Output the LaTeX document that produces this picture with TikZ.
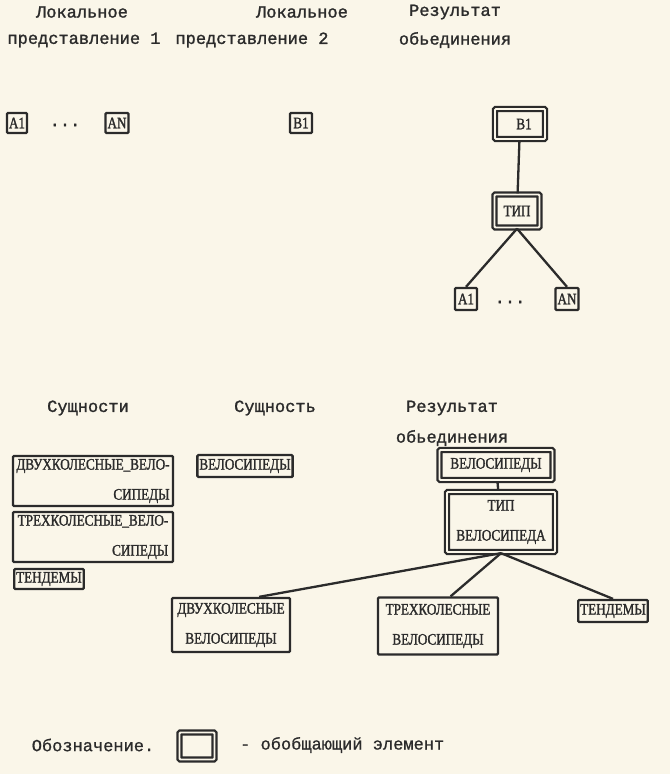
\documentclass[tikz,border=0pt]{standalone}
\usepackage{fontspec}
\setmainfont{Liberation Mono}
\newfontfamily\headfont[FakeBold=1.4]{Liberation Mono}
\newfontfamily\boxfont[FakeStretch=0.82, FakeBold=1.5]{Liberation Serif}
\newfontfamily\legfont[FakeBold=0.8]{Liberation Mono}
\definecolor{paper}{HTML}{FAF6E9}
\definecolor{ink}{HTML}{2B2B2B}

\begin{document}
\begin{tikzpicture}[x=1pt,y=-1pt]
% Diagram style
\tikzset{
    head/.style={text=ink, font=\headfont\fontsize{17}{20}\selectfont, inner sep=0pt},
    ent/.style={draw=ink, line width=2.3pt, rounded corners=1pt, text=ink,
        font=\boxfont\fontsize{16}{30}\selectfont, inner xsep=2pt, inner ysep=3pt},
    gen/.style={ent, double=paper, double distance=1.8pt},
    link/.style={draw=ink, line width=2.3pt}
}
\fill[paper] (0,0) rectangle (670,774);
\useasboundingbox (0,0) rectangle (670,774);

% Headers
\node[head] (Hla) at (82,12) {Локальное};
\node[head] (Hpa) at (84,40) {представление 1};
\node[head] (Hlb) at (302,12) {Локальное};
\node[head] (Hpb) at (252,40) {представление 2};
\node[head] (Hra) at (455,12) {Результат};
\node[head] (Hrb) at (455,40) {обьединения};

% Local views
\node[ent, minimum width=20, minimum height=20] (A1a) at (17,123) {A1};
\node[head] (Dta) at (65,125) {...};
\node[ent, minimum width=22, minimum height=20] (ANa) at (117,123) {AN};
\node[ent, minimum width=22, minimum height=20] (B1a) at (301,123) {B1};

% Merge result
\node[gen, minimum width=50, minimum height=30] (B1c) at (520,124) {\hspace{8pt}B1};
\node[gen, minimum width=45, minimum height=33] (Tipc) at (517,211) {ТИП};
\node[ent, minimum width=22, minimum height=22] (A1c) at (466,299) {A1};
\node[head] (Dtc) at (510,302) {...};
\node[ent, minimum width=22, minimum height=22] (ANc) at (567,299) {AN};

% Connection
\draw[link] (B1c) -- (Tipc);
\draw[link] (Tipc.south) -- (A1c.north);
\draw[link] (Tipc.south) -- (ANc.north);

% Headers
\node[head] (Hsa) at (88,408) {Сущности};
\node[head] (Hsb) at (275,408) {Сущность};
\node[head] (Hsc) at (452,408) {Результат};
\node[head] (Hsd) at (452,438) {обьединения};

% Entities
\node[ent, minimum width=160, align=right] (Dvua) at (93,481) {ДВУХКОЛЕСНЫЕ\_ВЕЛО-\\СИПЕДЫ};
\node[ent, minimum width=160, align=right] (Trea) at (93,537) {ТРЕХКОЛЕСНЫЕ\_ВЕЛО-\\СИПЕДЫ};
\node[ent, minimum height=20, anchor=west] (Tena) at (13,579) {ТЕНДЕМЫ};
\node[ent, minimum width=90, minimum height=22] (Vela) at (245,466) {ВЕЛОСИПЕДЫ};

% Merge result
\node[gen, minimum width=113, minimum height=30] (Velc) at (496,465) {ВЕЛОСИПЕДЫ};
\node[gen, minimum width=108, minimum height=60, align=center] (Tipvc) at (501,522) {ТИП\\ВЕЛОСИПЕДА};
\node[ent, minimum width=118, minimum height=54, align=center] (Dvuc) at (231,625) {ДВУХКОЛЕСНЫЕ\\ВЕЛОСИПЕДЫ};
\node[ent, minimum width=120, minimum height=57, align=center] (Trec) at (438,626) {ТРЕХКОЛЕСНЫЕ\\ВЕЛОСИПЕДЫ};
\node[ent, minimum width=54, minimum height=22] (Tenc) at (613,611) {ТЕНДЕМЫ};

% Connection
\draw[link] (Velc) -- (Tipvc);
\draw[link] (Tipvc.south) -- (Dvuc.45);
\draw[link] (Tipvc.south) -- (Trec.67);
\draw[link] (Tipvc.south) -- (Tenc.north);

% Legend
\node[head, font=\legfont\fontsize{17}{20}\selectfont] (Lga) at (93,745) {Обозначение.};
\node[gen, minimum width=35, minimum height=27] (Lgb) at (197,746) {};
\node[head, font=\legfont\fontsize{17}{20}\selectfont, anchor=west] (Lgc) at (240,745) {- обобщающий элемент};
\end{tikzpicture}
\end{document}
